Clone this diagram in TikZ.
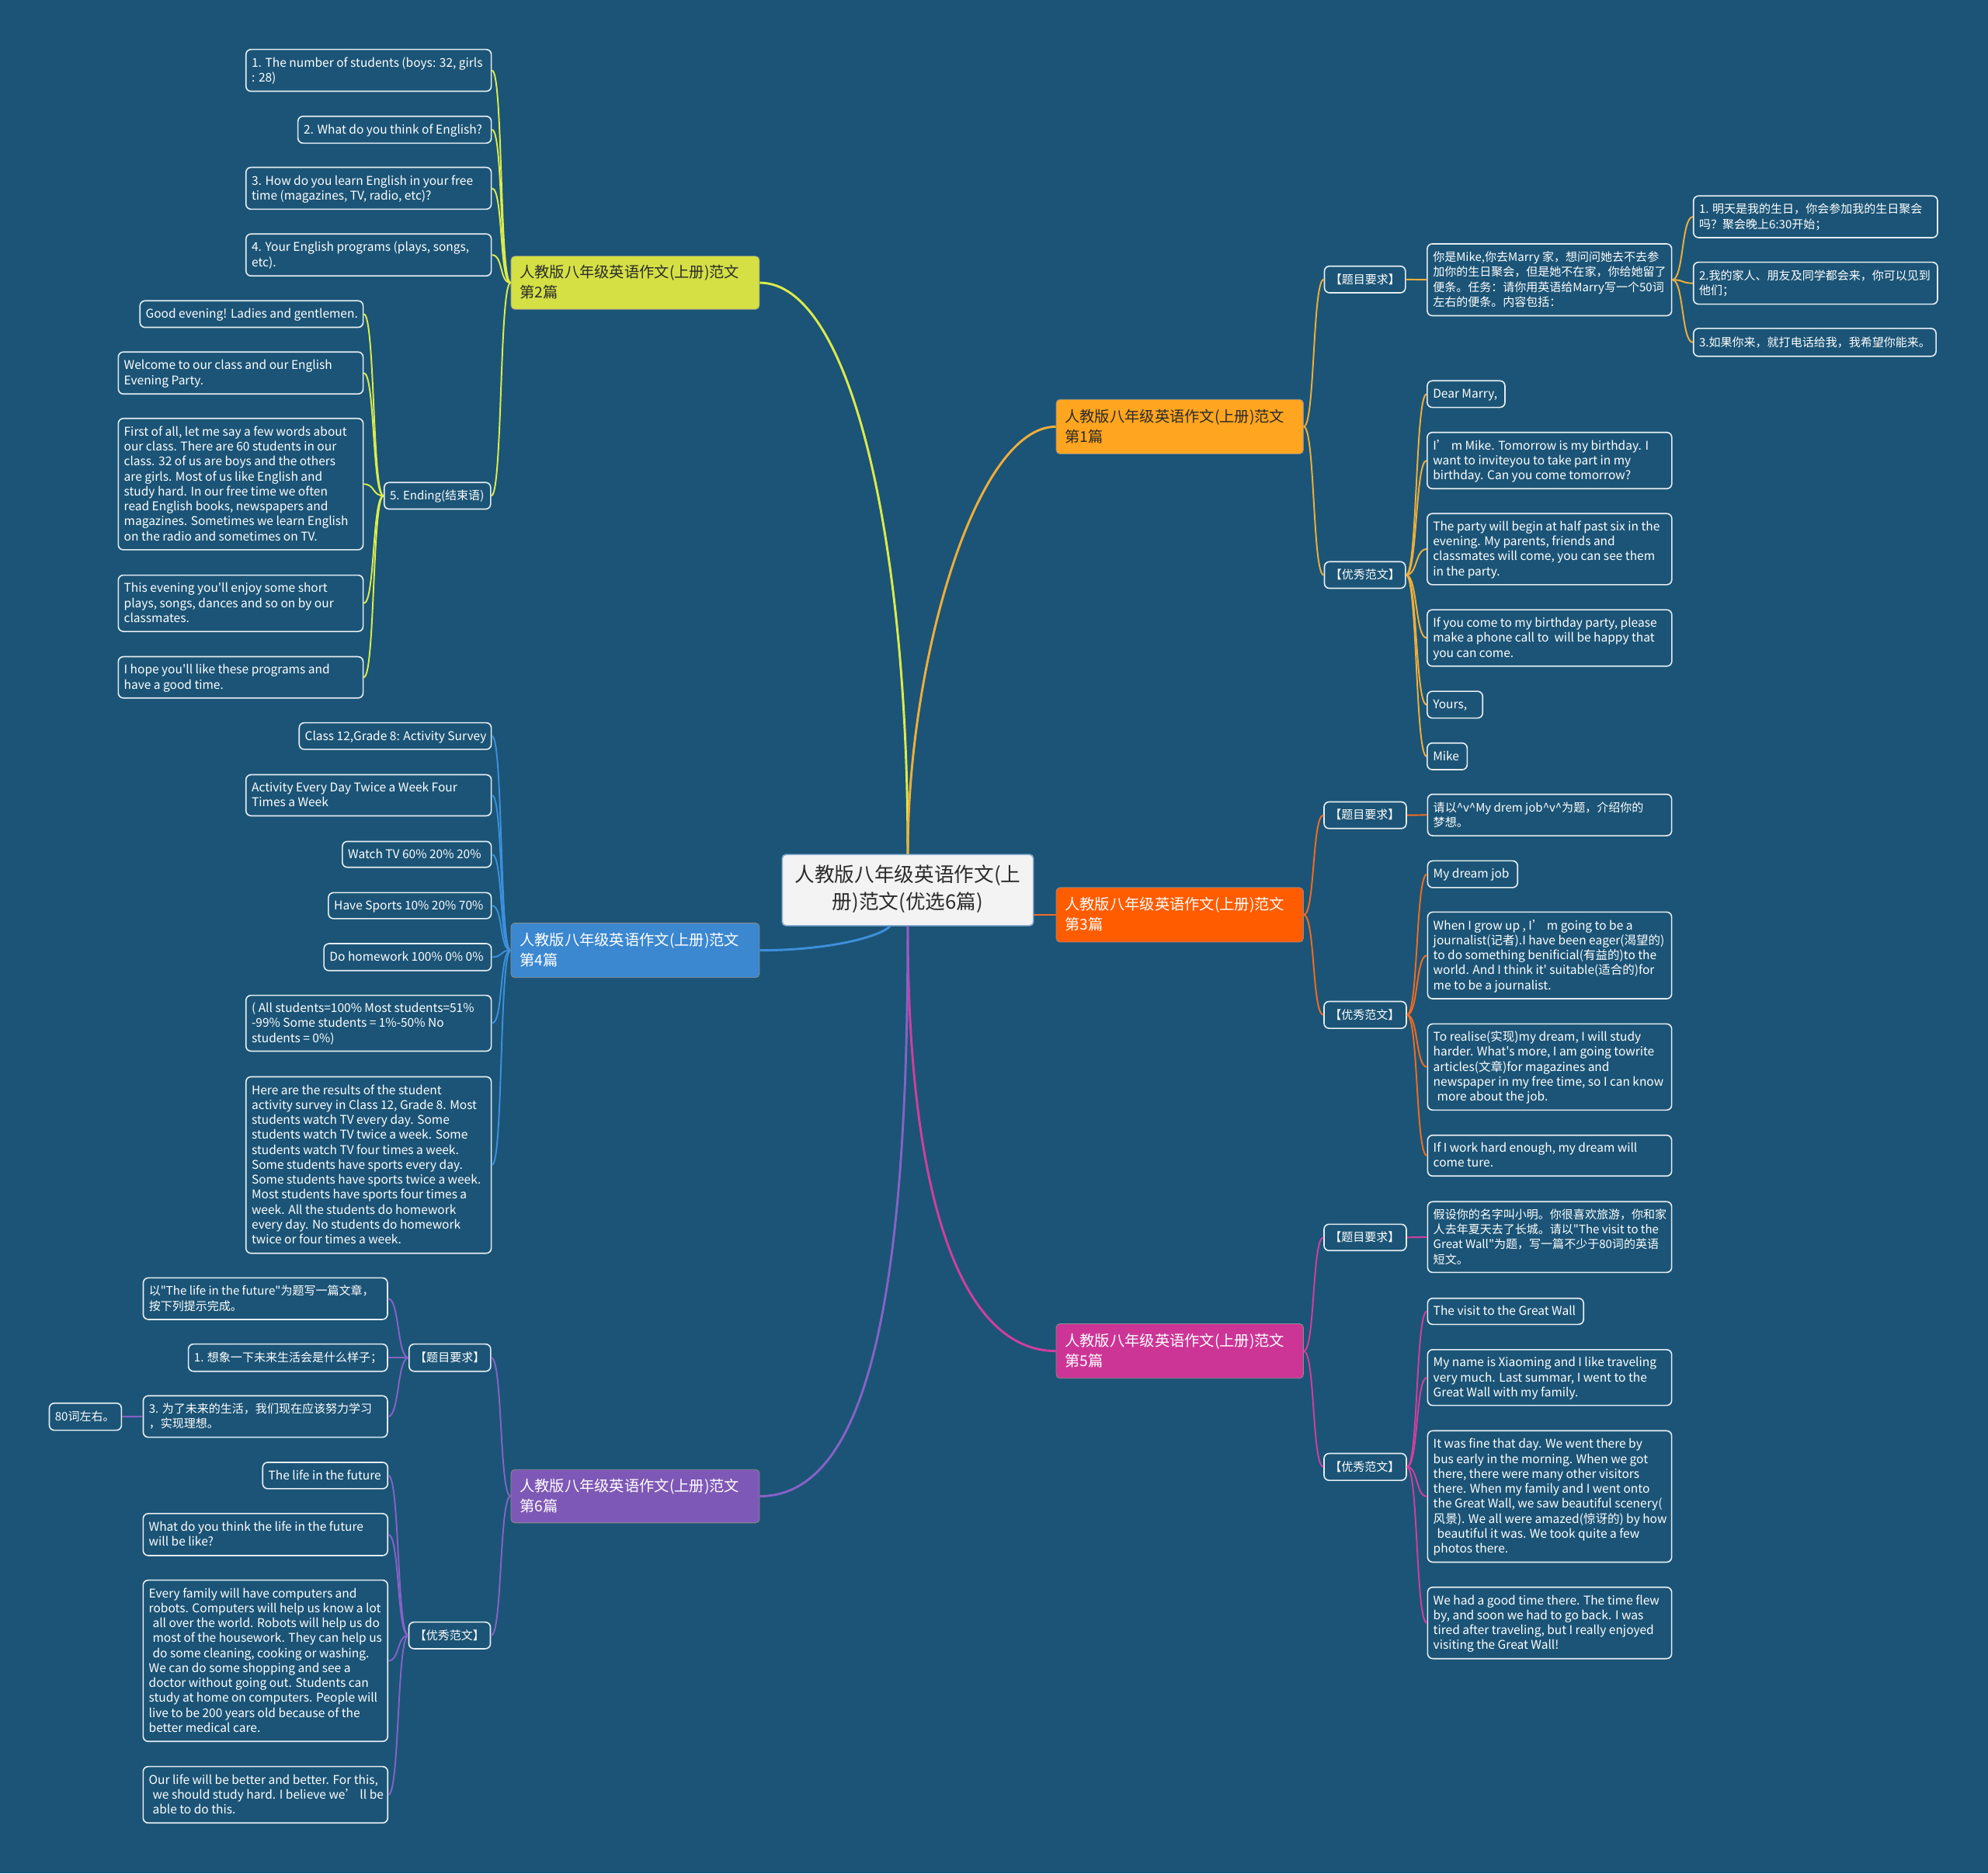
\documentclass[tikz,border=0pt]{standalone}
\usepackage{fontspec}
\setmainfont{Noto Sans CJK SC}[Ligatures=TeXOff]
\newcommand\lfE{\fontsize{9.5}{11.8}\selectfont}
\newcommand\lfC{\fontsize{9.2}{11.8}\selectfont}
\newcommand\lfB{\fontsize{11.8}{16}\selectfont}
\newcommand\lfR{\fontsize{15.7}{21}\selectfont}
\definecolor{bg}{HTML}{1B5476}
\definecolor{leafb}{HTML}{E4ECF2}
\definecolor{txtd}{HTML}{2A2A2A}
\definecolor{k2}{HTML}{D5E045}
\definecolor{l2}{HTML}{DCEB4B}
\definecolor{k1}{HTML}{FFA51F}
\definecolor{l1}{HTML}{F0AE3A}
\definecolor{k3}{HTML}{FF5C00}
\definecolor{l3}{HTML}{F26B21}
\definecolor{k4}{HTML}{3B87D0}
\definecolor{l4}{HTML}{3E8FDB}
\definecolor{k5}{HTML}{CC3596}
\definecolor{l5}{HTML}{D13E9F}
\definecolor{k6}{HTML}{7E58B6}
\definecolor{l6}{HTML}{8662C6}
\definecolor{rootf}{HTML}{F3F3F3}
\definecolor{rootd}{HTML}{8FB4D6}
% box: name, x1, y1, x2, y2, style, padding, text
\newcommand\mbx[8]{%
 \pgfmathsetmacro\bxw{#4-#2}\pgfmathsetmacro\bxh{#5-#3}%
 \pgfmathsetmacro\bxx{(#2+#4)/2}\pgfmathsetmacro\bxy{(#3+#5)/2}%
 \pgfmathsetmacro\bxt{#4-#2-#7}%
 \node[#6,minimum width=\bxw pt,minimum height=\bxh pt] (#1) at (\bxx,\bxy)
 {\raisebox{-0.9pt}[\height][\depth]{\makebox[\bxt pt][l]{\begin{tabular}{@{}l@{}}#8\end{tabular}}}};}
\newcommand\rnk[3]{\draw[#1] (#2.east) .. controls +(9,0) and +(-9,0) .. (#3.west);}
\newcommand\lnk[3]{\draw[#1] (#2.west) .. controls +(-9,0) and +(9,0) .. (#3.east);}
\tikzset{
 leaf/.style={draw=leafb, line width=1pt, rounded corners=4pt, fill=bg, text=white, inner xsep=4.5pt, inner ysep=0pt},
 lE/.style={leaf, font=\lfE},
 lC/.style={leaf, font=\lfC},
 br/.style={draw=black!45, line width=0.5pt, rounded corners=3pt, inner xsep=7pt, inner ysep=0pt, font=\lfB},
 root/.style={fill=rootf, draw=rootd, line width=1pt, rounded corners=3pt, text=txtd, font=\lfR, inner sep=0pt},
 rl/.style={line width=1.8pt},
 sl/.style={line width=1.2pt},
}
\begin{document}
\begin{tikzpicture}[x=1pt,y=-1pt]
\fill[bg] (0,0) rectangle (1568,1477.35);

% ---------- root and branches ----------
\node[root, minimum width=198pt, minimum height=56pt] (root) at (716,702)
 {\begin{tabular}{@{}c@{}}人教版八年级英语作文(上\\册)范文(优选6篇)\end{tabular}};
\mbx{b2}{403}{202}{599}{244}{br,fill=k2,text=txtd}{14}{人教版八年级英语作文(上册)范文\\第2篇}
\mbx{b1}{833}{315}{1028}{358}{br,fill=k1,text=txtd}{14}{人教版八年级英语作文(上册)范文\\第1篇}
\mbx{b4}{403}{728}{599}{771}{br,fill=k4,text=white}{14}{人教版八年级英语作文(上册)范文\\第4篇}
\mbx{b3}{833}{700}{1028}{743}{br,fill=k3,text=white}{14}{人教版八年级英语作文(上册)范文\\第3篇}
\mbx{b5}{833}{1044}{1028}{1087}{br,fill=k5,text=white}{14}{人教版八年级英语作文(上册)范文\\第5篇}
\mbx{b6}{403}{1159}{599}{1201}{br,fill=k6,text=white}{14}{人教版八年级英语作文(上册)范文\\第6篇}

% ---------- branch 2 ----------
\mbx{l2a}{194}{39}{387.5}{72}{lE}{9}{1. The number of students (boys: 32, girls\\: 28)}
\mbx{l2b}{235}{91.7}{387.5}{112.9}{lE}{9}{2. What do you think of English?}
\mbx{l2c}{194}{132}{387.5}{165}{lE}{9}{3. How do you learn English in your free\\time (magazines, TV, radio, etc)?}
\mbx{l2d}{194}{184.5}{387.5}{217.6}{lE}{9}{4. Your English programs (plays, songs,\\etc).}
\mbx{l2e}{303}{380.5}{387}{401.5}{lC}{9}{5. Ending(结束语)}
\mbx{e1}{110.4}{237.2}{286.4}{258.2}{lE}{9}{Good evening! Ladies and gentlemen.}
\mbx{e2}{93.3}{277.6}{286.4}{310.7}{lE}{9}{Welcome to our class and our English\\Evening Party.}
\mbx{e3}{93.3}{330}{286.4}{433.6}{lE}{9}{First of all, let me say a few words about\\our class. There are 60 students in our\\class. 32 of us are boys and the others\\are girls. Most of us like English and\\study hard. In our free time we often\\read English books, newspapers and\\magazines. Sometimes we learn English\\on the radio and sometimes on TV.}
\mbx{e4}{93.3}{453.6}{286.4}{498}{lE}{9}{This evening you'll enjoy some short\\plays, songs, dances and so on by our\\classmates.}
\mbx{e5}{93.3}{517.9}{286.4}{550.5}{lE}{9}{I hope you'll like these programs and\\have a good time.}

% ---------- branch 4 ----------
\mbx{l4a}{236}{570}{387.5}{591}{lE}{9}{Class 12,Grade 8: Activity Survey}
\mbx{l4b}{194}{611}{387.5}{643.4}{lE}{9}{Activity Every Day Twice a Week Four\\Times a Week}
\mbx{l4c}{270}{663.6}{387.5}{684}{lE}{9}{Watch TV 60\% 20\% 20\%}
\mbx{l4d}{259}{704}{387.5}{724.5}{lE}{9}{Have Sports 10\% 20\% 70\%}
\mbx{l4e}{255.5}{744.2}{387.5}{765.5}{lE}{9}{Do homework 100\% 0\% 0\%}
\mbx{l4f}{194}{785}{387.5}{829}{lE}{9}{( All students=100\% Most students=51\%\\-99\% Some students = 1\%-50\% No\\students = 0\%)}
\mbx{l4g}{194}{849.2}{387.5}{988.4}{lE}{9}{Here are the results of the student\\activity survey in Class 12, Grade 8. Most\\students watch TV every day. Some\\students watch TV twice a week. Some\\students watch TV four times a week.\\Some students have sports every day.\\Some students have sports twice a week.\\Most students have sports four times a\\week. All the students do homework\\every day. No students do homework\\twice or four times a week.}

% ---------- branch 6 ----------
\mbx{r6a}{322.7}{1060}{387}{1081.5}{lC}{9}{【题目要求】}
\mbx{r6a1}{113}{1007.8}{305.6}{1040.6}{lC}{9}{以"The life in the future"为题写一篇文章，\\按下列提示完成。}
\mbx{r6a2}{148.6}{1060}{305.6}{1081.5}{lC}{9}{1. 想象一下未来生活会是什么样子；}
\mbx{r6a3}{113}{1100.8}{305.6}{1133.5}{lC}{9}{3. 为了未来的生活，我们现在应该努力学习\\，实现理想。}
\mbx{r6a3x}{38.9}{1106.6}{95.8}{1128}{lC}{9}{80词左右。}
\mbx{r6b}{322.5}{1279.3}{386.8}{1300.3}{lC}{9}{【优秀范文】}
\mbx{r6b1}{207.2}{1153.3}{305.8}{1174.1}{lE}{9}{The life in the future}
\mbx{r6b2}{112.9}{1193.7}{305.8}{1226.8}{lE}{9}{What do you think the life in the future\\will be like?}
\mbx{r6b3}{112.9}{1246.2}{305.8}{1373.4}{lE}{9}{Every family will have computers and\\robots. Computers will help us know a lot\\\hspace*{3pt}all over the world. Robots will help us do\\\hspace*{3pt}most of the housework. They can help us\\\hspace*{3pt}do some cleaning, cooking or washing.\\We can do some shopping and see a\\doctor without going out. Students can\\study at home on computers. People will\\live to be 200 years old because of the\\better medical care.}
\mbx{r6b4}{112.9}{1393.2}{305.8}{1437.7}{lE}{9}{Our life will be better and better. For this,\\\hspace*{3pt}we should study hard. I believe we’ ll be\\\hspace*{3pt}able to do this.}

% ---------- branch 1 ----------
\mbx{q1}{1044.6}{209.9}{1108.5}{230.9}{lC}{9}{【题目要求】}
\mbx{q1a}{1125.7}{192.3}{1318.5}{249}{lC}{9}{你是Mike,你去Marry 家，想问问她去不去参\\加你的生日聚会，但是她不在家，你给她留了\\便条。任务：请你用英语给Marry写一个50词\\左右的便条。内容包括：}
\mbx{q1a1}{1335.7}{154.5}{1528.2}{187.4}{lC}{9}{1. 明天是我的生日，你会参加我的生日聚会\\吗？聚会晚上6:30开始；}
\mbx{q1a2}{1335.7}{206.8}{1528.2}{239.9}{lC}{9}{2.我的家人、朋友及同学都会来，你可以见到\\他们；}
\mbx{q1a3}{1335.7}{259}{1527}{281}{lC}{9}{3.如果你来，就打电话给我，我希望你能来。}
\mbx{p1}{1044.6}{443}{1108.5}{464}{lC}{9}{【优秀范文】}
\mbx{p1a}{1125.7}{300.3}{1187}{321.3}{lE}{9}{Dear Marry,}
\mbx{p1b}{1125.7}{341}{1318.6}{385.4}{lE}{9}{I’ m Mike. Tomorrow is my birthday. I\\want to inviteyou to take part in my\\birthday. Can you come tomorrow?}
\mbx{p1c}{1125.7}{405}{1318.6}{461.1}{lE}{9}{The party will begin at half past six in the\\evening. My parents, friends and\\classmates will come, you can see them\\in the party.}
\mbx{p1d}{1125.7}{480.9}{1318.6}{525.4}{lE}{9}{If you come to my birthday party, please\\make a phone call to\ \ will be happy that\\you can come.}
\mbx{p1e}{1125.7}{545.2}{1169.4}{566.3}{lE}{9}{Yours,}
\mbx{p1f}{1125.7}{586}{1157.2}{607}{lE}{9}{Mike}

% ---------- branch 3 ----------
\mbx{q3}{1044.3}{632.4}{1109.2}{653.4}{lC}{9}{【题目要求】}
\mbx{q3a}{1126}{626.4}{1318.5}{659.1}{lC}{9}{请以\textasciicircum v\textasciicircum My drem job\textasciicircum v\textasciicircum 为题，介绍你的\\梦想。}
\mbx{p3}{1044.3}{789.8}{1109.2}{811}{lC}{9}{【优秀范文】}
\mbx{p3a}{1126}{678.9}{1197}{700}{lE}{9}{My dream job}
\mbx{p3b}{1126}{719.3}{1318.5}{787.7}{lE}{9}{When I grow up , I’ m going to be a\\journalist(记者).I have been eager(渴望的)\\to do something benificial(有益的)to the\\world. And I think it' suitable(适合的)for\\me to be a journalist.}
\mbx{p3c}{1126}{807.5}{1318.5}{875.5}{lE}{9}{To realise(实现)my dream, I will study\\harder. What's more, I am going towrite\\articles(文章)for magazines and\\newspaper in my free time, so I can know\\\hspace*{3pt}more about the job.}
\mbx{p3d}{1126}{895.3}{1318.5}{927.5}{lE}{9}{If I work hard enough, my dream will\\come ture.}

% ---------- branch 5 ----------
\mbx{q5}{1044.3}{965.5}{1109.2}{986.3}{lC}{9}{【题目要求】}
\mbx{q5a}{1126}{947.7}{1318.5}{1003.5}{lC}{9}{假设你的名字叫小明。你很喜欢旅游，你和家\\人去年夏天去了长城。请以"The visit to the\\Great Wall"为题，写一篇不少于80词的英语\\短文。}
\mbx{p5}{1044.3}{1146.3}{1109.2}{1167.5}{lC}{9}{【优秀范文】}
\mbx{p5a}{1126}{1023.9}{1249}{1044.5}{lE}{9}{The visit to the Great Wall}
\mbx{p5b}{1126}{1064.4}{1318.5}{1108.4}{lE}{9}{My name is Xiaoming and I like traveling\\very much. Last summar, I went to the\\Great Wall with my family.}
\mbx{p5c}{1126}{1128.4}{1318.5}{1232}{lE}{9}{It was fine that day. We went there by\\bus early in the morning. When we got\\there, there were many other visitors\\there. When my family and I went onto\\the Great Wall, we saw beautiful scenery(\\风景). We all were amazed(惊讶的) by how\\\hspace*{3pt}beautiful it was. We took quite a few\\photos there.}
\mbx{p5d}{1126}{1251.8}{1318.5}{1308.1}{lE}{9}{We had a good time there. The time flew\\by, and soon we had to go back. I was\\tired after traveling, but I really enjoyed\\visiting the Great Wall!}

% ---------- root connectors ----------
\draw[rl,l2] (b2.east) .. controls (670,223) and (716,420) .. (root.north);
\draw[rl,l1] (root.north) .. controls (716,520) and (770,336.5) .. (b1.west);
\draw[rl,l3] (root.east |- b3.west) -- (b3.west);
\draw[rl,l4] (b4.east) .. controls (650,749.5) and (692,740) .. ([xshift=-14pt]root.south);
\draw[rl,l5] (root.south) .. controls (716,950) and (760,1065.5) .. (b5.west);
\draw[rl,l6] (root.south) .. controls (716,1000) and (690,1180) .. (b6.east);

% ---------- branch 2 connectors ----------
\foreach \c in {l2a,l2b,l2c,l2d,l2e}{\lnk{sl,l2}{b2}{\c}}
\foreach \c in {e1,e2,e3,e4,e5}{\lnk{sl,l2}{l2e}{\c}}
% ---------- branch 4 connectors ----------
\foreach \c in {l4a,l4b,l4c,l4d,l4e,l4f,l4g}{\lnk{sl,l4}{b4}{\c}}
% ---------- branch 6 connectors ----------
\foreach \c in {r6a,r6b}{\lnk{sl,l6}{b6}{\c}}
\foreach \c in {r6a1,r6a2,r6a3}{\lnk{sl,l6}{r6a}{\c}}
\draw[sl,l6] (r6a3.west) -- (r6a3x.east);
\foreach \c in {r6b1,r6b2,r6b3,r6b4}{\lnk{sl,l6}{r6b}{\c}}
% ---------- branch 1 connectors ----------
\foreach \c in {q1,p1}{\rnk{sl,l1}{b1}{\c}}
\draw[sl,l1] (q1.east) -- (q1a.west);
\foreach \c in {q1a1,q1a2,q1a3}{\rnk{sl,l1}{q1a}{\c}}
\foreach \c in {p1a,p1b,p1c,p1d,p1e,p1f}{\rnk{sl,l1}{p1}{\c}}
% ---------- branch 3 connectors ----------
\foreach \c in {q3,p3}{\rnk{sl,l3}{b3}{\c}}
\draw[sl,l3] (q3.east) -- (q3a.west);
\foreach \c in {p3a,p3b,p3c,p3d}{\rnk{sl,l3}{p3}{\c}}
% ---------- branch 5 connectors ----------
\foreach \c in {q5,p5}{\rnk{sl,l5}{b5}{\c}}
\draw[sl,l5] (q5.east) -- (q5a.west);
\foreach \c in {p5a,p5b,p5c,p5d}{\rnk{sl,l5}{p5}{\c}}
\end{tikzpicture}
\end{document}
